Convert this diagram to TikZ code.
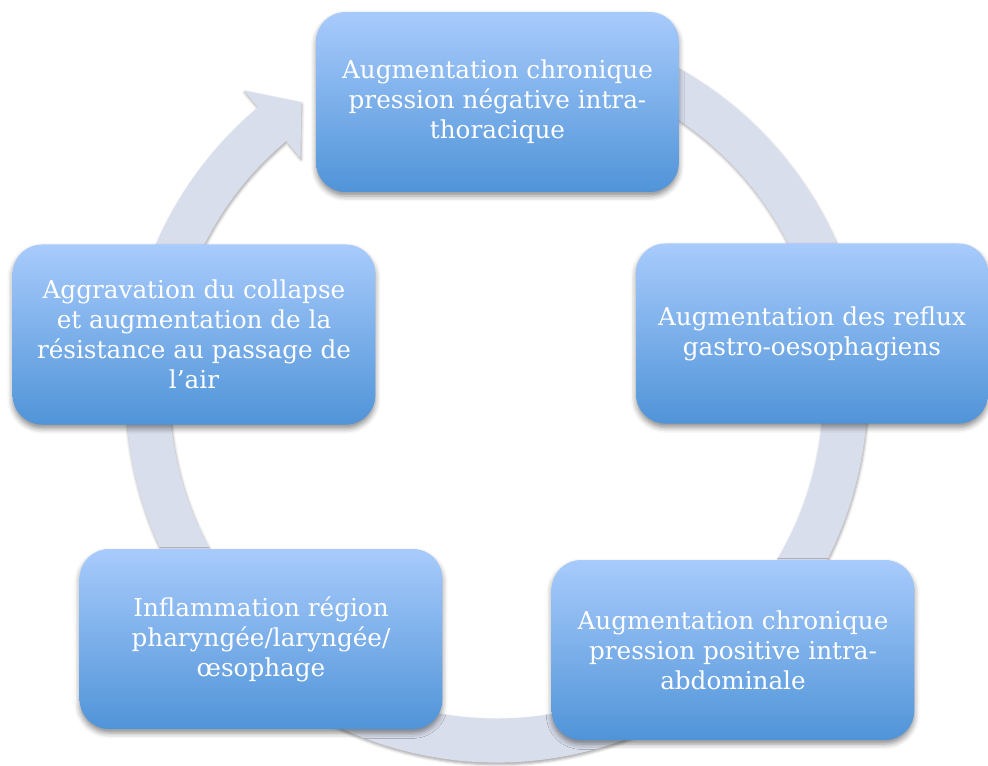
\documentclass[tikz,border=0pt]{standalone}
\usepackage{fontspec}
\setmainfont{DejaVu Serif}
\usepackage{tikz}
\usetikzlibrary{shadows.blur}

\definecolor{boxtop}{RGB}{168,203,252}
\definecolor{boxbot}{RGB}{80,148,216}
\definecolor{ringcol}{RGB}{217,222,236}

\tikzset{
  cyclebox/.style={rounded corners=22pt, minimum width=272pt, minimum height=135pt,
    top color=boxtop, bottom color=boxbot, draw=none, text=white, align=center,
    font=\fontsize{18.5pt}{22.5pt}\selectfont,
    blur shadow={shadow xshift=0pt, shadow yshift=-3pt, shadow blur radius=4pt, shadow opacity=45}},
  ringband/.style={fill=ringcol, draw=none,
    blur shadow={shadow xshift=0.5pt, shadow yshift=-1.5pt, shadow blur radius=2pt, shadow opacity=35}},
}

\begin{document}
\begin{tikzpicture}[x=0.75pt,y=-0.75pt]
\useasboundingbox (0,0) rectangle (988,766);

%Shape: circular arrow behind the boxes
\begin{scope}[shift={(496.5,391.5)}]
\path[ringband] (-75:371) arc[start angle=-75, end angle=230, radius=371]
  -- (230:393) -- (236:349) -- (230:305) -- (230:327)
  arc[start angle=230, end angle=-75, radius=327] -- cycle;
\end{scope}

% Boxes
\node[cyclebox] (pneg) at (497.5,102) {Augmentation chronique\\pression négative intra-\\thoracique};
\node[cyclebox, minimum width=264pt] (reflux) at (812,333.5) {Augmentation des reflux\\gastro-oesophagiens};
\node[cyclebox] (ppos) at (733,650) {Augmentation chronique\\pression positive intra-\\abdominale};
\node[cyclebox] (inflam) at (261,639) {Inflammation région\\pharyngée/laryngée/\\œsophage};
\node[cyclebox] (collapse) at (194,334.5) {Aggravation du collapse\\et augmentation de la\\résistance au passage de\\l’air};

\end{tikzpicture}
\end{document}
